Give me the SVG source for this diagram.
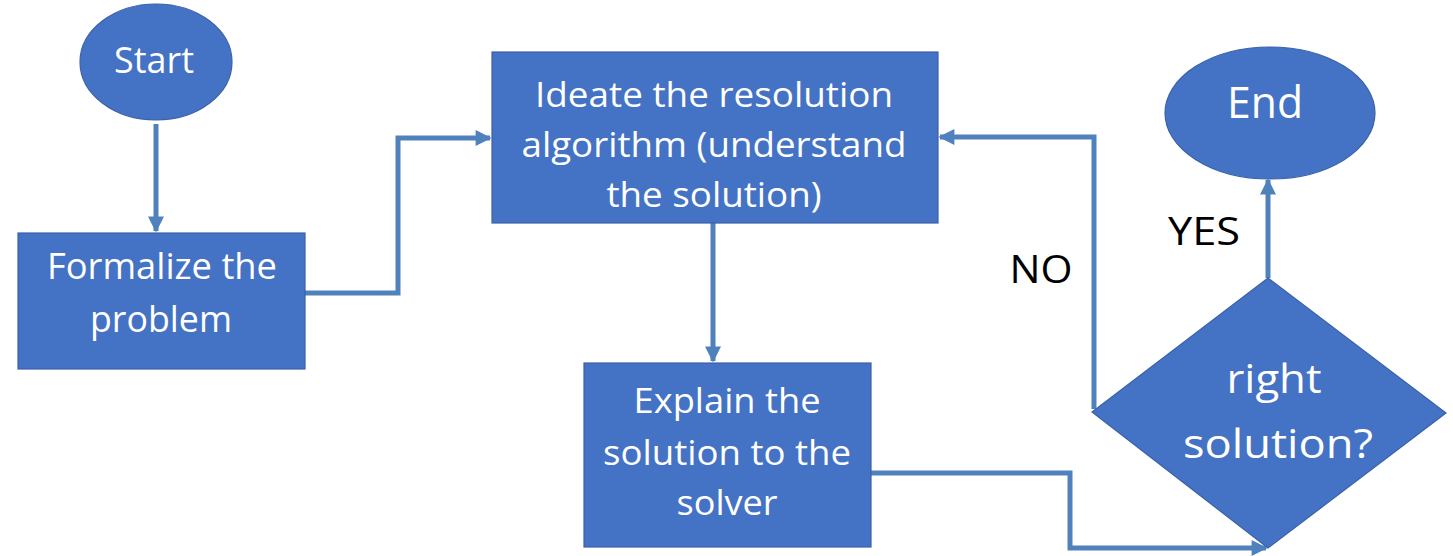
<svg xmlns="http://www.w3.org/2000/svg" width="1453" height="556" viewBox="0 0 1453 556">
  <defs>
    <style>
      .node { fill: #4472C4; stroke: #3A62A8; stroke-width: 1.2; }
      .lbl { font-family: "Open Sans", "Noto Sans", "Liberation Sans", sans-serif; fill: #FFFFFF; text-anchor: middle; }
      .note { font-family: "Open Sans", "Noto Sans", "Liberation Sans", sans-serif; fill: #000000; text-anchor: middle; }
      .edge { fill: none; stroke: #4F81BD; stroke-width: 5; stroke-linejoin: miter; }
    </style>
    <marker id="arrow" viewBox="0 0 10 10" refX="9" refY="5" markerWidth="3.4" markerHeight="3.2" orient="auto" markerUnits="strokeWidth">
      <path d="M0,0 L10,5 L0,10 Z" fill="#4F81BD"/>
    </marker>
  </defs>
  <rect width="1453" height="556" fill="#FFFFFF"/>

  <!-- connectors -->
  <g id="connectors">
    <path class="edge" d="M156,124 L156,231" marker-end="url(#arrow)"/>
    <path class="edge" d="M305,293 L398,293 L398,138 L490,138" marker-end="url(#arrow)"/>
    <path class="edge" d="M713,223 L713,361" marker-end="url(#arrow)"/>
    <path class="edge" d="M871,473 L1070,473 L1070,548 L1266,548" marker-end="url(#arrow)"/>
    <path class="edge" d="M1094,409 L1094,137 L940,137" marker-end="url(#arrow)"/>
    <path class="edge" d="M1268,278 L1268,180" marker-end="url(#arrow)"/>
  </g>

  <!-- start -->
  <g id="start">
    <ellipse class="node" cx="156" cy="62" rx="76" ry="58"/>
    <text class="lbl" x="154" y="73" font-size="36" textLength="80" lengthAdjust="spacingAndGlyphs">Start</text>
  </g>

  <!-- formalize -->
  <g id="formalize">
    <rect class="node" x="18" y="233" width="287" height="136"/>
    <text class="lbl" x="162" y="279" font-size="36" textLength="230" lengthAdjust="spacingAndGlyphs">Formalize the</text>
    <text class="lbl" x="161" y="332" font-size="36" textLength="142" lengthAdjust="spacingAndGlyphs">problem</text>
  </g>

  <!-- ideate -->
  <g id="ideate">
    <rect class="node" x="492" y="52" width="446" height="171"/>
    <text class="lbl" x="714" y="107" font-size="35" textLength="358" lengthAdjust="spacingAndGlyphs">Ideate the resolution</text>
    <text class="lbl" x="714" y="157" font-size="35" textLength="385" lengthAdjust="spacingAndGlyphs">algorithm (understand</text>
    <text class="lbl" x="714" y="207" font-size="35" textLength="215" lengthAdjust="spacingAndGlyphs">the solution)</text>
  </g>

  <!-- explain -->
  <g id="explain">
    <rect class="node" x="584" y="363" width="287" height="184"/>
    <text class="lbl" x="727" y="413" font-size="35" textLength="187" lengthAdjust="spacingAndGlyphs">Explain the</text>
    <text class="lbl" x="727" y="465" font-size="35" textLength="248" lengthAdjust="spacingAndGlyphs">solution to the</text>
    <text class="lbl" x="727" y="515" font-size="35" textLength="101" lengthAdjust="spacingAndGlyphs">solver</text>
  </g>

  <!-- decision -->
  <g id="decision">
    <polygon class="node" points="1268,278 1446,413 1268,548 1092,412"/>
    <text class="lbl" x="1274" y="393" font-size="40" textLength="95" lengthAdjust="spacingAndGlyphs">right</text>
    <text class="lbl" x="1278" y="458" font-size="40" textLength="190" lengthAdjust="spacingAndGlyphs">solution?</text>
  </g>

  <!-- end -->
  <g id="end">
    <ellipse class="node" cx="1270" cy="113" rx="105" ry="66"/>
    <text class="lbl" x="1265" y="118" font-size="43" textLength="76" lengthAdjust="spacingAndGlyphs">End</text>
  </g>

  <!-- branch labels -->
  <g id="labels">
    <text class="note" x="1204" y="245" font-size="38" textLength="72" lengthAdjust="spacingAndGlyphs">YES</text>
    <text class="note" x="1041" y="283" font-size="38" textLength="63" lengthAdjust="spacingAndGlyphs">NO</text>
  </g>
</svg>
